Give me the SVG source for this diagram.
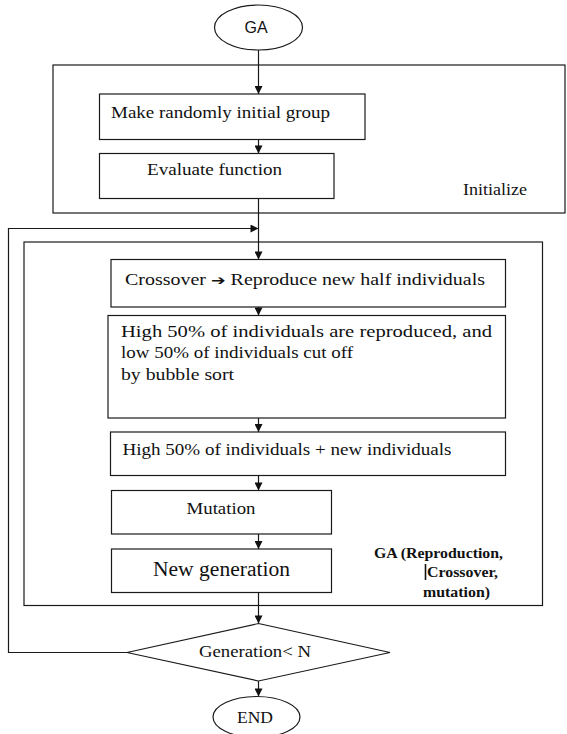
<svg xmlns="http://www.w3.org/2000/svg" width="567" height="734" viewBox="0 0 567 734">
  <style>
    .box { fill: #fff; stroke: #1a1a1a; stroke-width: 1.2; }
    .frame { fill: none; stroke: #1a1a1a; stroke-width: 1.2; }
    .wire { fill: none; stroke: #1a1a1a; stroke-width: 1.2; }
  </style>
  <defs>
    <marker id="arrow" viewBox="0 0 10 10" refX="10" refY="5" markerWidth="8.5" markerHeight="8" markerUnits="userSpaceOnUse" orient="auto">
      <path d="M0,0 L10,5 L0,10 Z" fill="#111"/>
    </marker>
  </defs>
  <rect width="567" height="734" fill="#fff"/>

  <!-- Grouping frames -->
  <g id="initialize-frame">
    <rect class="frame" x="53" y="65" width="512" height="148"/>
    <text x="463" y="195" font-family="Liberation Serif" font-size="16" fill="#111" textLength="64" lengthAdjust="spacingAndGlyphs">Initialize</text>
  </g>
  <g id="ga-frame">
    <rect class="frame" x="24" y="242" width="518.5" height="363.5"/>
    <text x="374" y="558" font-family="Liberation Serif" font-size="15" font-weight="bold" fill="#111" textLength="129" lengthAdjust="spacingAndGlyphs">GA (Reproduction,</text>
    <line x1="425.5" y1="564" x2="425.5" y2="580" stroke="#111" stroke-width="1.6"/>
    <text x="427" y="577" font-family="Liberation Serif" font-size="15" font-weight="bold" fill="#111" textLength="71" lengthAdjust="spacingAndGlyphs">Crossover,</text>
    <text x="423" y="597" font-family="Liberation Serif" font-size="15" font-weight="bold" fill="#111" textLength="67" lengthAdjust="spacingAndGlyphs">mutation)</text>
  </g>

  <!-- Connectors -->
  <g id="connectors">
    <line class="wire" x1="258.5" y1="50" x2="258.5" y2="94" marker-end="url(#arrow)"/>
    <line class="wire" x1="258.5" y1="139.5" x2="258.5" y2="153.5" marker-end="url(#arrow)"/>
    <line class="wire" x1="258.5" y1="198.5" x2="258.5" y2="259.5" marker-end="url(#arrow)"/>
    <polyline class="wire" points="127,652.5 8.5,652.5 8.5,228.5 258.5,228.5" marker-end="url(#arrow)"/>
    <line class="wire" x1="258.5" y1="307" x2="258.5" y2="315.5" marker-end="url(#arrow)"/>
    <line class="wire" x1="258.5" y1="418" x2="258.5" y2="432" marker-end="url(#arrow)"/>
    <line class="wire" x1="258.5" y1="475.5" x2="258.5" y2="490.5" marker-end="url(#arrow)"/>
    <line class="wire" x1="258.5" y1="534" x2="258.5" y2="549" marker-end="url(#arrow)"/>
    <line class="wire" x1="258.5" y1="592.5" x2="258.5" y2="623.5" marker-end="url(#arrow)"/>
    <line class="wire" x1="258.5" y1="681" x2="258.5" y2="696.5" marker-end="url(#arrow)"/>
  </g>

  <!-- Nodes -->
  <g id="start">
    <ellipse class="box" cx="258.5" cy="27.5" rx="44" ry="22.5"/>
    <text x="256" y="33" font-family="Liberation Sans" font-size="16" fill="#111" text-anchor="middle">GA</text>
  </g>
  <g id="make-group">
    <rect class="box" x="99.5" y="94" width="265.5" height="45.5"/>
    <text x="111" y="118" font-family="Liberation Serif" font-size="16" fill="#111" textLength="219" lengthAdjust="spacingAndGlyphs">Make randomly initial group</text>
  </g>
  <g id="evaluate">
    <rect class="box" x="99.5" y="153.5" width="234.5" height="45"/>
    <text x="147" y="175" font-family="Liberation Serif" font-size="16" fill="#111" textLength="135" lengthAdjust="spacingAndGlyphs">Evaluate function</text>
  </g>
  <g id="crossover">
    <rect class="box" x="111" y="259.5" width="394.5" height="47.5"/>
    <text x="125" y="285" font-family="Liberation Serif" font-size="16" fill="#111" textLength="360" lengthAdjust="spacingAndGlyphs">Crossover <tspan font-family="DejaVu Sans" font-weight="bold" font-size="14">➔</tspan> Reproduce new half individuals</text>
  </g>
  <g id="select">
    <rect class="box" x="108" y="315.5" width="397.5" height="102.5"/>
    <text x="121" y="337" font-family="Liberation Serif" font-size="16" fill="#111" textLength="371" lengthAdjust="spacingAndGlyphs">High 50% of individuals are reproduced, and</text>
    <text x="121" y="358" font-family="Liberation Serif" font-size="16" fill="#111" textLength="232" lengthAdjust="spacingAndGlyphs">low 50% of individuals cut off</text>
    <text x="121" y="380" font-family="Liberation Serif" font-size="16" fill="#111" textLength="113" lengthAdjust="spacingAndGlyphs">by bubble sort</text>
  </g>
  <g id="merge">
    <rect class="box" x="110.5" y="432" width="395" height="43.5"/>
    <text x="122.5" y="455" font-family="Liberation Serif" font-size="16" fill="#111" textLength="329" lengthAdjust="spacingAndGlyphs">High 50% of individuals + new individuals</text>
  </g>
  <g id="mutation">
    <rect class="box" x="111.5" y="490.5" width="220" height="43.5"/>
    <text x="186.5" y="514" font-family="Liberation Serif" font-size="16" fill="#111" textLength="69" lengthAdjust="spacingAndGlyphs">Mutation</text>
  </g>
  <g id="new-generation">
    <rect class="box" x="111.5" y="549" width="220" height="43.5"/>
    <text x="153" y="576" font-family="Liberation Serif" font-size="20" fill="#111" textLength="137" lengthAdjust="spacingAndGlyphs">New generation</text>
  </g>
  <g id="decision">
    <polygon class="box" points="258.5,623.5 390,652.5 258.5,681 127,652.5"/>
    <text x="199" y="657" font-family="Liberation Serif" font-size="16" fill="#111" textLength="112" lengthAdjust="spacingAndGlyphs">Generation&lt; N</text>
  </g>
  <g id="end">
    <ellipse class="box" cx="256.5" cy="717" rx="43.5" ry="20.5"/>
    <text x="237" y="723" font-family="Liberation Serif" font-size="16" fill="#111" textLength="36" lengthAdjust="spacingAndGlyphs">END</text>
  </g>
</svg>
